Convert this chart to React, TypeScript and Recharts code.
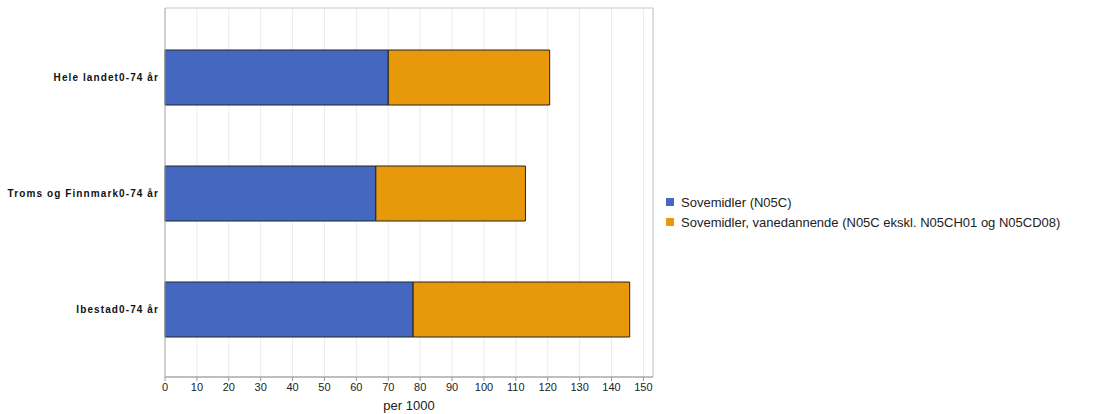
import React from 'react';
import { BarChart, Bar, XAxis, YAxis, CartesianGrid } from 'recharts';

const categories = ['Hele landet0-74 år', 'Troms og Finnmark0-74 år', 'Ibestad0-74 år'];
const sovemidler = [70.0, 66.1, 77.8];
const vanedannende = [50.6, 46.9, 67.9];
const xTicks = [0, 10, 20, 30, 40, 50, 60, 70, 80, 90, 100, 110, 120, 130, 140, 150];
const seriesNames = ['Sovemidler (N05C)', 'Sovemidler, vanedannende (N05C ekskl. N05CH01 og N05CD08)'];
const seriesColors = ['#4468BF', '#E8990A'];

const data = categories.map((c, i) => ({ name: c, a: sovemidler[i], b: vanedannende[i] }));

const FONT = 'Liberation Sans, Arial, sans-serif';

const YTick = (props: any) => {
  const { x, y, payload } = props;
  return (
    <text x={x} y={y} dy={4} textAnchor="end" fontSize={10} fontWeight={600} letterSpacing={1.1} fill="#111" fontFamily={FONT}>
      {payload.value}
    </text>
  );
};

export default function App() {
  return (
    <div style={{ position: 'absolute', left: 0, top: 0, width: 1117, height: 414 }}>
      <BarChart
        width={1117}
        height={414}
        data={data}
        layout="vertical"
        margin={{ top: 8, right: 464, left: 0, bottom: 0 }}
        barSize={55}
      >
        <CartesianGrid horizontal={false} stroke="#ececec" />
        <CartesianGrid
          stroke="#c8c8c8"
          horizontalCoordinatesGenerator={({ offset }: any) => [offset.top, offset.top + offset.height]}
          verticalCoordinatesGenerator={({ offset }: any) => [offset.left + offset.width]}
        />
        <XAxis
          type="number"
          domain={[0, 153]}
          ticks={xTicks}
          interval={0}
          height={37}
          stroke="#999"
          tickSize={4}
          tick={{ fontSize: 11, fill: '#222', fontFamily: FONT }}
          label={{ value: 'per 1000', position: 'insideBottom', offset: 4, fontSize: 13, fill: '#222', fontFamily: FONT }}
        />
        <YAxis
          type="category"
          dataKey="name"
          width={165}
          stroke="#aaa"
          tickLine={false}
          tickSize={4}
          tickMargin={2}
          padding={{ top: 11, bottom: 10 }}
          tick={<YTick />}
        />
        <Bar dataKey="a" stackId="s" fill={seriesColors[0]} stroke="#222" strokeWidth={1} isAnimationActive={false} />
        <Bar dataKey="b" stackId="s" fill={seriesColors[1]} stroke="#222" strokeWidth={1} isAnimationActive={false} />
      </BarChart>
      <div style={{ position: 'absolute', left: 666, top: 192, fontFamily: FONT, fontSize: 13, color: '#222' }}>
        {seriesNames.map((n, i) => (
          <div key={n} style={{ display: 'flex', alignItems: 'center', height: 20 }}>
            <span style={{ display: 'inline-block', width: 8, height: 8, background: seriesColors[i], marginRight: 7 }} />
            <span style={{ whiteSpace: 'nowrap' }}>{n}</span>
          </div>
        ))}
      </div>
    </div>
  );
}
